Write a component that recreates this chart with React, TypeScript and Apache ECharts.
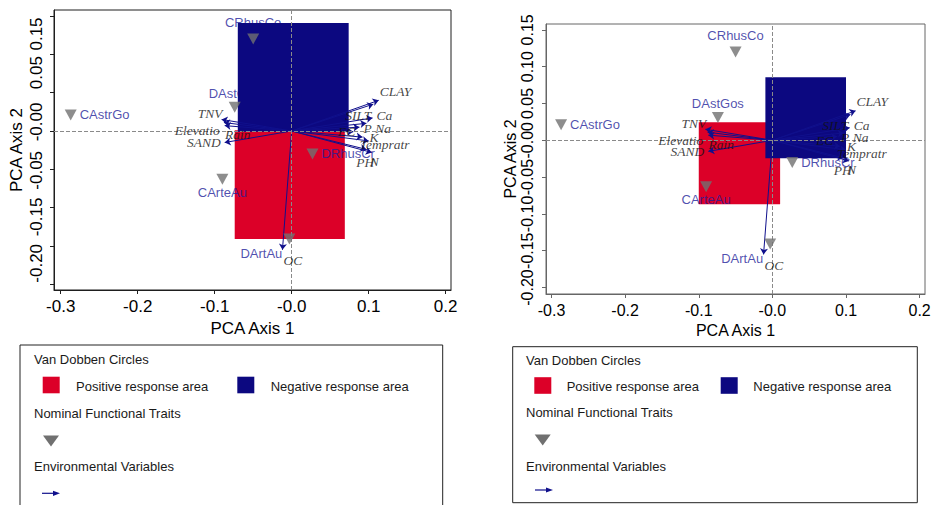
import React, { useEffect, useRef } from "react";
import * as echarts from "echarts";

// ---- data ----
const traitNames = ["CRhusCo", "DAstGos", "CAstrGo", "DRhusCr", "CArteAu", "DArtAu"];
const traitX = [-0.05, -0.074, -0.287, 0.027, -0.09, -0.003];
const traitY = [0.12, 0.031, 0.021, -0.03, -0.063, -0.141];

const envNames = ["CLAY", "SILT", "Ca", "Na", "P", "EC", "K", "Tempratr", "PH", "N", "TNV", "Rain", "Elevatio", "SAND", "OC"];
const envX = [0.113, 0.106, 0.105, 0.097, 0.088, 0.08, 0.092, 0.1, 0.097, 0.104, -0.091, -0.088, -0.087, -0.087, -0.012];
const envY = [0.04, 0.035, 0.017, 0.01, 0.005, -0.001, -0.008, -0.013, -0.024, -0.028, 0.015, 0.011, 0.007, -0.015, -0.155];

// response areas [xMin, yMin, xMax, yMax]
const leftPositive = [-0.074, -0.141, 0.069, 0.001];
const leftNegative = [-0.07, -0.001, 0.074, 0.141];
const rightPositive = [-0.1, -0.087, 0.0105, 0.0245];
const rightNegative = [-0.0095, -0.0245, 0.1, 0.0856];

const xTicks = [-0.3, -0.2, -0.1, 0, 0.1, 0.2];
const yTicks = [-0.2, -0.15, -0.1, -0.05, 0, 0.05, 0.1, 0.15];
const leftYLabelValues = [-0.2, -0.15, -0.05, 0, 0.05, 0.15];

// ---- styles ----
const RED = "#dc0028";
const NAVY = "#0c0880";
const ARROW = "#10108c";
const GRAY_TRI = "#707070";
const LABEL_BLUE = "#1f1f9a";
const SANS = "'Liberation Sans', Arial, sans-serif";
const SERIF = "'Liberation Serif', 'Times New Roman', serif";

// left panel's y labels sit off their ticks in the reference (px, + = down)
const leftYLabelShift: Record<string, number> = {
  "0.15": 18, "0.05": -20, "0.00": -9, "-0.05": 1, "-0.15": -29, "-0.20": -21,
};

const envLabelStyle: Record<string, [number, number, string]> = {
  CLAY: [1, -9, "left"],
  SILT: [-2, 11, "right"],
  Ca: [4, -2, "left"],
  Na: [9, 5, "left"],
  P: [4, 1, "left"],
  EC: [2, 0, "right"],
  K: [7, 0, "left"],
  Tempratr: [-9, 4, "left"],
  PH: [-10, 13, "left"],
  N: [-2, 9, "left"],
  TNV: [1, -6, "right"],
  Rain: [1, 12, "left"],
  Elevatio: [-5, 5, "right"],
  SAND: [-4, 0, "right"],
  OC: [1, 11, "left"],
};
const traitLabelStyle: Record<string, [number, number, string]> = {
  CRhusCo: [0, -16, "center"],
  DAstGos: [0, -14, "center"],
  CAstrGo: [9, 0, "left"],
  DRhusCr: [9, 0, "left"],
  CArteAu: [0, 13, "center"],
  DArtAu: [-7, 14, "right"],
};

const fmtY = (v: number) => (Math.abs(v) < 1e-9 ? "-0.00" : v.toFixed(2));
const keyY = (v: number) => (Math.abs(v) < 1e-9 ? "0.00" : v.toFixed(2));

const leftRich: Record<string, any> = {};
Object.keys(leftYLabelShift).forEach((k, i) => {
  const d = leftYLabelShift[k];
  leftRich["s" + i] = { padding: d >= 0 ? [0, 2 * d, 0, 0] : [0, 0, 0, -2 * d] };
});
const leftYFormatter = (v: number) => {
  const idx = Object.keys(leftYLabelShift).indexOf(keyY(v));
  return idx >= 0 ? `{s${idx}|${fmtY(v)}}` : fmtY(v);
};

const panels = [
  {
    grid: { left: 54, top: 10, width: 397, height: 280 },
    xMin: -0.3087, xMax: 0.2069, yMin: -0.2074, yMax: 0.1578,
    font: 17, frame: "#1e1e1e", xNameGap: 29, yNameGap: 29, yLabelMargin: 9,
    yLabels: leftYLabelValues, pos: leftPositive, neg: leftNegative,
    yFormatter: leftYFormatter, rich: leftRich,
  },
  {
    grid: { left: 546, top: 24, width: 379, height: 270 },
    xMin: -0.3075, xMax: 0.2073, yMin: -0.2088, yMax: 0.158,
    font: 16, frame: "#666666", xNameGap: 28, yNameGap: 26, yLabelMargin: 11,
    yLabels: yTicks, pos: rightPositive, neg: rightNegative,
    yFormatter: fmtY, rich: {},
  },
];

function rectSeries(g: number, rect: number[], color: string, z: number) {
  return {
    type: "custom",
    xAxisIndex: g,
    yAxisIndex: g,
    z,
    silent: true,
    data: [rect],
    encode: { x: [0, 2], y: [1, 3] },
    renderItem: (_p: any, api: any) => {
      const a = api.coord([api.value(0), api.value(3)]);
      const b = api.coord([api.value(2), api.value(1)]);
      return {
        type: "rect",
        shape: { x: a[0], y: a[1], width: b[0] - a[0], height: b[1] - a[1] },
        style: { fill: color },
      };
    },
  };
}

function buildOption() {
  const grids: any[] = [];
  const xAxes: any[] = [];
  const yAxes: any[] = [];
  const series: any[] = [];
  const graphic: any[] = [];

  panels.forEach((p, g) => {
    grids.push({ ...p.grid, show: true, borderColor: p.frame, borderWidth: 1, backgroundColor: "transparent" });
    xAxes.push({
      gridIndex: g, type: "value", min: p.xMin, max: p.xMax,
      axisLine: { show: true, onZero: false, lineStyle: { color: p.frame, width: 1 } },
      axisTick: { show: true, length: 4, inside: false, customValues: xTicks, lineStyle: { color: p.frame } },
      axisLabel: {
        customValues: xTicks, margin: 8, color: "#000", fontSize: p.font, fontFamily: SANS,
        showMinLabel: true, showMaxLabel: true,
        formatter: (v: number) => (Math.abs(v) < 1e-9 ? "-0.0" : v.toFixed(1)),
      },
      splitLine: { show: false },
      name: "PCA Axis 1", nameLocation: "middle", nameGap: p.xNameGap,
      nameTextStyle: { color: "#000", fontSize: p.font, fontFamily: SANS },
    });
    yAxes.push({
      gridIndex: g, type: "value", min: p.yMin, max: p.yMax,
      axisLine: { show: true, onZero: false, lineStyle: { color: p.frame, width: 1 } },
      axisTick: { show: true, length: 4, inside: false, customValues: yTicks, lineStyle: { color: p.frame } },
      axisLabel: {
        customValues: p.yLabels, rotate: 90, margin: p.yLabelMargin, color: "#000", fontSize: p.font, fontFamily: SANS,
        showMinLabel: true, showMaxLabel: true, hideOverlap: false,
        formatter: p.yFormatter, rich: p.rich,
      },
      splitLine: { show: false },
      name: "PCA Axis 2", nameLocation: "middle", nameGap: p.yNameGap,
      nameTextStyle: { color: "#000", fontSize: p.font, fontFamily: SANS },
    });

    // zero reference lines
    series.push({
      type: "scatter", xAxisIndex: g, yAxisIndex: g, z: 0, data: [], silent: true,
      markLine: {
        silent: true, symbol: ["none", "none"], label: { show: false },
        lineStyle: { type: "dashed", color: "#8a8a8a", width: 1 },
        data: [{ xAxis: 0 }, { yAxis: 0 }],
      },
    });
    series.push(rectSeries(g, p.pos, RED, 1));
    // trait labels (beneath the negative area)
    series.push({
      type: "scatter", xAxisIndex: g, yAxisIndex: g, z: 2, silent: true,
      symbolSize: 0.1, itemStyle: { color: "transparent" },
      data: traitNames.map((n, i) => {
        const s = traitLabelStyle[n];
        return {
          value: [traitX[i], traitY[i]],
          label: {
            show: true, formatter: n, position: [s[0], s[1]], align: s[2], verticalAlign: "middle",
            color: LABEL_BLUE, fontSize: 13, fontFamily: SANS,
          },
        };
      }),
    });
    series.push(rectSeries(g, p.neg, NAVY, 3));
    // environmental arrows
    series.push({
      type: "lines", coordinateSystem: "cartesian2d", xAxisIndex: g, yAxisIndex: g, z: 4, silent: true,
      symbol: ["none", "arrow"], symbolSize: 6,
      lineStyle: { color: ARROW, width: 1, opacity: 1 },
      data: envNames.map((_n, i) => ({ coords: [[0, 0], [envX[i], envY[i]]] })),
    });
    series.push({
      type: "scatter", xAxisIndex: g, yAxisIndex: g, z: 5, silent: true,
      symbolSize: 0.1, itemStyle: { color: "transparent" },
      data: envNames.map((n, i) => {
        const s = envLabelStyle[n];
        return {
          value: [envX[i], envY[i]],
          label: {
            show: true, formatter: n, position: [s[0], s[1]], align: s[2], verticalAlign: "middle",
            color: "#111", fontSize: 13.5, fontStyle: "italic", fontFamily: SERIF,
          },
        };
      }),
    });
    series.push({
      type: "scatter", xAxisIndex: g, yAxisIndex: g, z: 6, silent: true,
      symbol: "triangle", symbolRotate: 180, symbolSize: [12, 11],
      itemStyle: { color: GRAY_TRI },
      data: traitNames.map((_n, i) => [traitX[i], traitY[i]]),
    });
  });

  // legends
  const legends = [
    { box: [20, 345, 422.7, 175], tx: 34, title: 359.3, sq: 385, txt: 386.7, nom: 413.3, tri: 441, env: 466.7, arr: 493.3,
      redX: 42.7, posX: 76, blueX: 237.3, negX: 270.7, triX: 51, arrX: 42 },
    { box: [512.7, 346.7, 404.6, 156], tx: 526, title: 360.7, sq: 385.5, txt: 386.7, nom: 412.3, tri: 440, env: 466, arr: 490,
      redX: 534.3, posX: 566.7, blueX: 720.7, negX: 753.3, triX: 542.7, arrX: 535 },
  ];
  const txt = (text: string, x: number, y: number) => ({
    type: "text", x, y, silent: true,
    style: { text, fill: "#1a1a1a", font: `13px ${SANS}`, align: "left", verticalAlign: "middle", textAlign: "left", textVerticalAlign: "middle" },
  });
  legends.forEach((L) => {
    graphic.push({
      type: "rect", silent: true,
      shape: { x: L.box[0], y: L.box[1], width: L.box[2], height: L.box[3] },
      style: { fill: "#fff", stroke: "#222", lineWidth: 1 },
    });
    graphic.push(txt("Van Dobben Circles", L.tx, L.title));
    graphic.push({ type: "rect", silent: true, shape: { x: L.redX, y: L.sq - 8.3, width: 17, height: 16.6 }, style: { fill: RED } });
    graphic.push(txt("Positive response area", L.posX, L.txt));
    graphic.push({ type: "rect", silent: true, shape: { x: L.blueX, y: L.sq - 8.3, width: 17, height: 16.6 }, style: { fill: NAVY } });
    graphic.push(txt("Negative response area", L.negX, L.txt));
    graphic.push(txt("Nominal Functional Traits", L.tx, L.nom));
    graphic.push({
      type: "polygon", silent: true,
      shape: { points: [[L.triX - 8, L.tri - 5.5], [L.triX + 8, L.tri - 5.5], [L.triX, L.tri + 5.5]] },
      style: { fill: GRAY_TRI },
    });
    graphic.push(txt("Environmental Variables", L.tx, L.env));
    graphic.push({
      type: "line", silent: true,
      shape: { x1: L.arrX, y1: L.arr, x2: L.arrX + 13, y2: L.arr },
      style: { stroke: ARROW, lineWidth: 1.2 },
    });
    graphic.push({
      type: "polygon", silent: true,
      shape: { points: [[L.arrX + 11, L.arr - 2.6], [L.arrX + 18, L.arr], [L.arrX + 11, L.arr + 2.6]] },
      style: { fill: ARROW },
    });
  });

  return {
    animation: false,
    backgroundColor: "#ffffff",
    textStyle: { fontFamily: SANS },
    grid: grids,
    xAxis: xAxes,
    yAxis: yAxes,
    series,
    graphic: { elements: graphic },
  };
}

export default function App() {
  const ref = useRef<HTMLDivElement>(null);
  useEffect(() => {
    if (!ref.current) return;
    const chart = echarts.init(ref.current, undefined, { renderer: "svg" });
    chart.setOption(buildOption() as any);
    return () => chart.dispose();
  }, []);
  return (
    <div
      ref={ref}
      style={{ position: "absolute", left: 0, top: 0, width: 935, height: 505, background: "#fff" }}
    />
  );
}
